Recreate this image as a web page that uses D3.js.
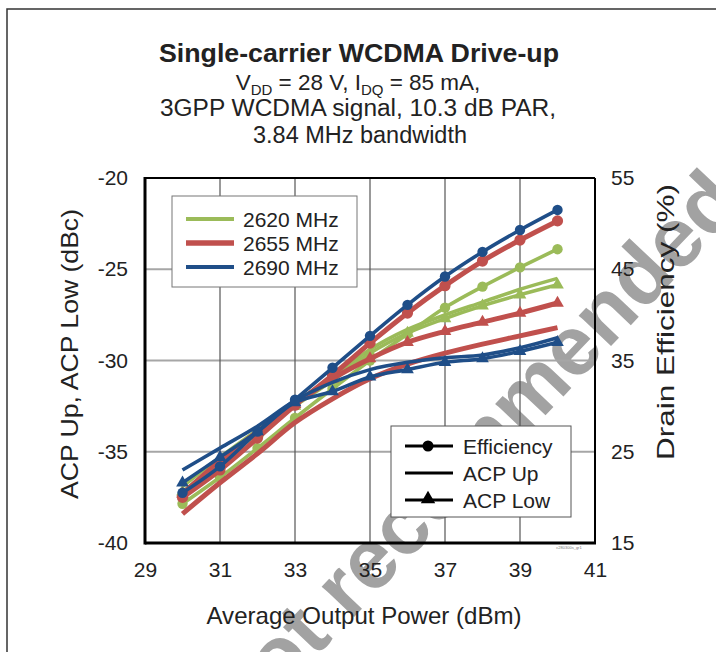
<!DOCTYPE html>
<html>
<head>
<meta charset="utf-8">
<script src="https://cdn.jsdelivr.net/npm/d3@7"></script>
<style>
  body { margin: 0; background: #fff; }
  svg { display: block; font-family: "Liberation Sans", Arial, sans-serif; }
</style>
</head>
<body>
<div id="chart"></div>
<script>
// Data
const power = [30, 31, 32, 33, 34, 35, 36, 37, 38, 39, 40];

const eff2620 = [19.3, 22.2, 25.4, 28.7, 31.9, 35.0, 37.9, 40.8, 43.1, 45.2, 47.2];
const eff2655 = [20.0, 23.0, 26.5, 30.1, 33.4, 36.9, 40.2, 43.2, 45.9, 48.2, 50.3];
const eff2690 = [20.5, 23.4, 27.2, 30.7, 34.2, 37.7, 41.1, 44.2, 46.9, 49.3, 51.5];

const acpUp2620 = [-36.9, -35.3, -33.8, -32.3, -30.9, -29.4, -28.3, -27.5, -26.8, -26.1, -25.5];
const acpLow2620 = [-37.2, -35.6, -34.0, -32.5, -31.1, -29.6, -28.5, -27.7, -27.0, -26.4, -25.85];
const acpUp2655 = [-38.4, -36.7, -35.1, -33.4, -32.1, -31.0, -30.2, -29.6, -29.1, -28.65, -28.2];
const acpLow2655 = [-37.3, -35.5, -33.9, -32.4, -31.0, -29.9, -29.0, -28.4, -27.9, -27.4, -26.85];
const acpUp2690 = [-36.0, -34.8, -33.6, -32.2, -31.2, -30.5, -30.1, -29.85, -29.7, -29.3, -28.75];
const acpLow2690 = [-36.7, -35.3, -33.9, -32.3, -31.7, -30.9, -30.5, -30.1, -29.9, -29.5, -29.0];

const xTicks = [29, 31, 33, 35, 37, 39, 41];
const acpTicks = [-40, -35, -30, -25, -20];
const effTicks = [15, 25, 35, 45, 55];
const freqLabels = ["2620 MHz", "2655 MHz", "2690 MHz"];
const typeLabels = ["Efficiency", "ACP Up", "ACP Low"];

// ------ Drawing area ------- //
const width = 716;
const height = 652;
const plot = {left: 145, right: 595, top: 178, bottom: 543};

const svg = d3.select("#chart")
  .append("svg")
  .attr("width", width)
  .attr("height", height);

// outer frame
svg.append("rect")
  .attr("x", 7).attr("y", 9)
  .attr("width", 730).attr("height", 660)
  .attr("fill", "none")
  .attr("stroke", "#333")
  .attr("stroke-width", 1.5);

// watermark (behind everything)
svg.append("text")
  .text("Not recommended")
  .attr("transform", "translate(470, 452) rotate(-46.5)")
  .attr("text-anchor", "middle")
  .attr("dy", "0.35em")
  .attr("font-size", 84)
  .attr("font-weight", "bold")
  .attr("fill", "#a2a2a2");

// ------ Scales ------- //
const xScale = d3.scaleLinear().domain([29, 41]).range([plot.left, plot.right]);
const yAcp = d3.scaleLinear().domain([-40, -20]).range([plot.bottom, plot.top]);
const yEff = d3.scaleLinear().domain([15, 55]).range([plot.bottom, plot.top]);

// gridlines
svg.append("g")
  .selectAll("line")
  .data(acpTicks.slice(1, -1))
  .join("line")
    .attr("x1", plot.left).attr("x2", plot.right)
    .attr("y1", d => yAcp(d)).attr("y2", d => yAcp(d))
    .attr("stroke", "#a6a6a6")
    .attr("stroke-width", 2);
svg.append("g")
  .selectAll("line")
  .data(xTicks.slice(1, -1))
  .join("line")
    .attr("x1", d => xScale(d)).attr("x2", d => xScale(d))
    .attr("y1", plot.top).attr("y2", plot.bottom)
    .attr("stroke", "#555")
    .attr("stroke-width", 1.2);

// axes
const leftAxis = d3.axisLeft(yAcp).tickValues(acpTicks).tickSize(0).tickPadding(17)
  .tickFormat(d => String(d));
const rightAxis = d3.axisRight(yEff).tickValues(effTicks).tickSize(0).tickPadding(16);
const bottomAxis = d3.axisBottom(xScale).tickValues(xTicks).tickSize(0).tickPadding(19);

svg.append("g").attr("class", "axis")
  .attr("transform", `translate(${plot.left}, 0)`).call(leftAxis);
svg.append("g").attr("class", "axis")
  .attr("transform", `translate(${plot.right}, 0)`).call(rightAxis);
svg.append("g").attr("class", "axis")
  .attr("transform", `translate(0, ${plot.bottom})`).call(bottomAxis);

svg.selectAll(".axis .domain").remove();
svg.selectAll(".axis text")
  .attr("font-family", "'Liberation Sans', Arial, sans-serif")
  .attr("font-size", 21)
  .attr("fill", "#222");

// plot border
svg.append("line")
  .attr("x1", plot.left).attr("x2", plot.right)
  .attr("y1", plot.top).attr("y2", plot.top)
  .attr("stroke", "#000").attr("stroke-width", 2);
svg.append("line")
  .attr("x1", plot.right).attr("x2", plot.right)
  .attr("y1", plot.top).attr("y2", plot.bottom)
  .attr("stroke", "#000").attr("stroke-width", 2);
svg.append("line")
  .attr("x1", plot.left).attr("x2", plot.left)
  .attr("y1", plot.top - 1).attr("y2", plot.bottom + 1.5)
  .attr("stroke", "#000").attr("stroke-width", 3);
svg.append("line")
  .attr("x1", plot.left).attr("x2", plot.right + 1)
  .attr("y1", plot.bottom).attr("y2", plot.bottom)
  .attr("stroke", "#000").attr("stroke-width", 3);

// ------ Series ------- //
const green = "#9bbb59";
const red = "#c0504d";
const blue = "#1f4e88";

const series = [
  {color: green, w: 3.6, r: 5.2, eff: eff2620, up: acpUp2620, low: acpLow2620},
  {color: red, w: 5, r: 5.6, eff: eff2655, up: acpUp2655, low: acpLow2655},
  {color: blue, w: 3.6, r: 5.2, eff: eff2690, up: acpUp2690, low: acpLow2690}
];

const lineAcp = d3.line()
  .x((d, i) => xScale(power[i]))
  .y(d => yAcp(d))
  .curve(d3.curveCatmullRom);
const lineEff = d3.line()
  .x((d, i) => xScale(power[i]))
  .y(d => yEff(d))
  .curve(d3.curveCatmullRom);

const triangle = d3.symbol().type(d3.symbolTriangle).size(70);

series.forEach(s => {
  const g = svg.append("g");
  // ACP Up (no markers)
  g.append("path")
    .attr("d", lineAcp(s.up))
    .attr("fill", "none")
    .attr("stroke", s.color)
    .attr("stroke-width", s.w);
  // ACP Low (triangles)
  g.append("path")
    .attr("d", lineAcp(s.low))
    .attr("fill", "none")
    .attr("stroke", s.color)
    .attr("stroke-width", s.w);
  g.selectAll(".tri")
    .data(s.low)
    .join("path")
      .attr("class", "tri")
      .attr("d", triangle)
      .attr("transform", (d, i) => `translate(${xScale(power[i])}, ${yAcp(d)})`)
      .attr("fill", s.color);
  // Efficiency (circles)
  g.append("path")
    .attr("d", lineEff(s.eff))
    .attr("fill", "none")
    .attr("stroke", s.color)
    .attr("stroke-width", s.w);
  g.selectAll("circle")
    .data(s.eff)
    .join("circle")
      .attr("cx", (d, i) => xScale(power[i]))
      .attr("cy", d => yEff(d))
      .attr("r", s.r)
      .attr("fill", s.color);
});

// ------ Legends ------- //
const leg1 = svg.append("g").attr("transform", "translate(172, 196)");
leg1.append("rect")
  .attr("width", 185).attr("height", 91)
  .attr("fill", "#fff")
  .attr("stroke", "#777")
  .attr("stroke-width", 1);
freqLabels.forEach((label, i) => {
  const y = 23 + i * 24;
  leg1.append("line")
    .attr("x1", 14).attr("x2", 62)
    .attr("y1", y).attr("y2", y)
    .attr("stroke", series[i].color)
    .attr("stroke-width", series[i].w + 0.4);
  leg1.append("text")
    .text(label)
    .attr("x", 71).attr("y", y)
    .attr("dy", "0.36em")
    .attr("font-size", 21)
    .attr("fill", "#222");
});

const leg2 = svg.append("g").attr("transform", "translate(391, 426)");
leg2.append("rect")
  .attr("width", 180).attr("height", 91)
  .attr("fill", "#fff")
  .attr("stroke", "#555")
  .attr("stroke-width", 1);
typeLabels.forEach((label, i) => {
  const y = 20 + i * 27;
  leg2.append("line")
    .attr("x1", 14).attr("x2", 62)
    .attr("y1", y).attr("y2", y)
    .attr("stroke", "#000")
    .attr("stroke-width", 3);
  if (i === 0) {
    leg2.append("circle").attr("cx", 37).attr("cy", y).attr("r", 5.5).attr("fill", "#000");
  }
  if (i === 2) {
    leg2.append("path")
      .attr("d", d3.symbol().type(d3.symbolTriangle).size(90))
      .attr("transform", `translate(37, ${y - 1})`)
      .attr("fill", "#000");
  }
  leg2.append("text")
    .text(label)
    .attr("x", 72).attr("y", y)
    .attr("dy", "0.36em")
    .attr("font-size", 21)
    .attr("fill", "#222");
});

// tiny figure id
svg.append("text")
  .text("c280300s_gr1")
  .attr("x", 569).attr("y", 549)
  .attr("text-anchor", "middle")
  .attr("font-size", 4)
  .attr("fill", "#777");

// ------ Titles ------- //
svg.append("text")
  .text("Single-carrier WCDMA Drive-up")
  .attr("x", 359).attr("y", 62)
  .attr("text-anchor", "middle")
  .attr("font-size", 25)
  .attr("font-weight", "bold")
  .attr("textLength", 400)
  .attr("lengthAdjust", "spacingAndGlyphs")
  .attr("fill", "#222");

const sub1 = svg.append("text")
  .attr("x", 358).attr("y", 90)
  .attr("text-anchor", "middle")
  .attr("font-size", 22.5)
  .attr("fill", "#222");
sub1.append("tspan").text("V");
sub1.append("tspan").text("DD").attr("font-size", 15).attr("dy", 5);
sub1.append("tspan").text(" = 28 V, I").attr("dy", -5);
sub1.append("tspan").text("DQ").attr("font-size", 15).attr("dy", 5);
sub1.append("tspan").text(" = 85 mA,").attr("dy", -5);

svg.append("text")
  .text("3GPP WCDMA signal, 10.3 dB PAR,")
  .attr("x", 358).attr("y", 116)
  .attr("text-anchor", "middle")
  .attr("font-size", 23)
  .attr("textLength", 396)
  .attr("lengthAdjust", "spacingAndGlyphs")
  .attr("fill", "#222");
svg.append("text")
  .text("3.84 MHz bandwidth")
  .attr("x", 360).attr("y", 143)
  .attr("text-anchor", "middle")
  .attr("font-size", 23)
  .attr("textLength", 214)
  .attr("lengthAdjust", "spacingAndGlyphs")
  .attr("fill", "#222");

svg.append("text")
  .text("Average Output Power (dBm)")
  .attr("x", 364).attr("y", 624)
  .attr("text-anchor", "middle")
  .attr("font-size", 24)
  .attr("textLength", 315)
  .attr("lengthAdjust", "spacingAndGlyphs")
  .attr("fill", "#222");

svg.append("text")
  .text("ACP Up, ACP Low (dBc)")
  .attr("transform", "translate(78, 354) rotate(-90)")
  .attr("text-anchor", "middle")
  .attr("font-size", 24)
  .attr("textLength", 290)
  .attr("lengthAdjust", "spacingAndGlyphs")
  .attr("fill", "#222");

svg.append("text")
  .text("Drain Efficiency (%)")
  .attr("transform", "translate(674, 322) rotate(-90)")
  .attr("text-anchor", "middle")
  .attr("font-size", 24)
  .attr("textLength", 276)
  .attr("lengthAdjust", "spacingAndGlyphs")
  .attr("fill", "#222");
</script>
</body>
</html>
